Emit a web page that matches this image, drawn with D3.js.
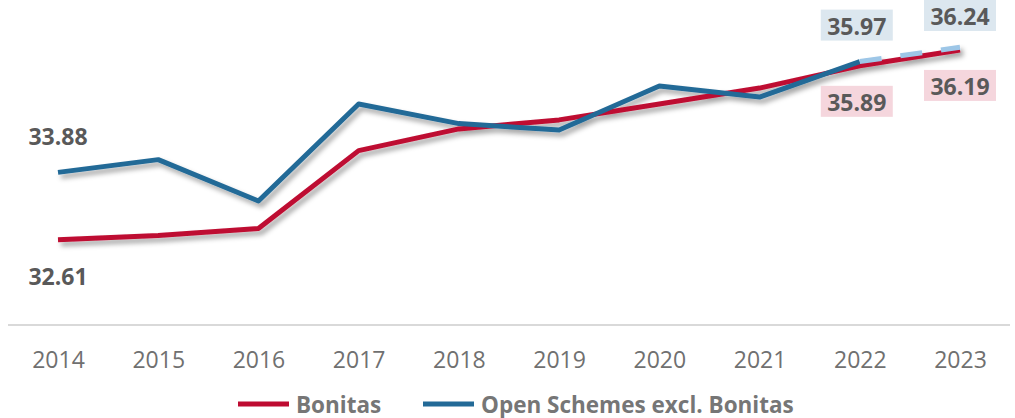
<!DOCTYPE html>
<html>
<head>
<meta charset="utf-8">
<script src="https://cdn.jsdelivr.net/npm/d3@7"></script>
<style>
  html, body { margin: 0; padding: 0; background: #ffffff; }
  svg { display: block; font-family: "Open Sans", "Lato", sans-serif; }
</style>
</head>
<body>
<svg id="chart" width="1015" height="418"></svg>
<script>
// ---- data ----
const years = ["2014", "2015", "2016", "2017", "2018", "2019", "2020", "2021", "2022", "2023"];
const bonitas = [32.61, 32.69, 32.82, 34.29, 34.70, 34.87, 35.17, 35.47, 35.89, 36.19];
const openSchemes = [33.88, 34.12, 33.34, 35.17, 34.80, 34.68, 35.51, 35.30, 35.97, 36.24];
const seriesNames = ["Bonitas", "Open Schemes excl. Bonitas"];
const labelledYears = ["2014", "2022", "2023"];
const boxedYears = ["2022", "2023"];
const projectedFrom = "2022";

// ---- layout ----
const svg = d3.select("#chart");
const x = d3.scalePoint().domain(years).range([58, 960]);
const y = d3.scaleLinear().domain([31, 37]).range([325, 7]);

const colors = { red: "#BE0B31", blue: "#236A97", lightBlue: "#9DC6E7",
                 label: "#595959", axis: "#707070", legend: "#767676" };

const defs = svg.append("defs");
const f = defs.append("filter").attr("id", "shadow")
  .attr("x", "-5%").attr("y", "-20%").attr("width", "110%").attr("height", "150%");
f.append("feDropShadow").attr("dx", 3).attr("dy", 4).attr("stdDeviation", 2.5)
  .attr("flood-color", "#000").attr("flood-opacity", 0.35);

// baseline axis
svg.append("line").attr("x1", 8).attr("x2", 1010)
  .attr("y1", y(31)).attr("y2", y(31))
  .attr("stroke", "#d9d9d9").attr("stroke-width", 2);

// x axis tick labels
const xAxis = d3.axisBottom(x).tickSize(0).tickPadding(0);
const gx = svg.append("g").attr("transform", `translate(0,${y(31) + 27})`).call(xAxis);
gx.select(".domain").remove();
gx.selectAll("text").attr("fill", colors.axis).attr("font-size", 23)
  .attr("font-family", "'Open Sans', sans-serif");

const line = d3.line().x(d => x(d.year)).y(d => y(d.value));
const bonData = years.map((yr, i) => ({ year: yr, value: bonitas[i] }));
const openData = years.map((yr, i) => ({ year: yr, value: openSchemes[i] }));
const splitIdx = years.indexOf(projectedFrom);

const lines = svg.append("g").attr("filter", "url(#shadow)");
lines.append("path").datum(bonData).attr("d", line)
  .attr("fill", "none").attr("stroke", colors.red).attr("stroke-width", 5)
  .attr("stroke-linejoin", "round");
lines.append("path").datum(openData.slice(0, splitIdx + 1)).attr("d", line)
  .attr("fill", "none").attr("stroke", colors.blue).attr("stroke-width", 5)
  .attr("stroke-linejoin", "round");
lines.append("path").datum(openData.slice(splitIdx)).attr("d", line)
  .attr("fill", "none").attr("stroke", colors.lightBlue).attr("stroke-width", 5)
  .attr("stroke-dasharray", "22,19");

// data labels
function addLabels(data, dy, boxColor) {
  const g = svg.append("g");
  data.filter(d => labelledYears.includes(d.year)).forEach(d => {
    const cx = x(d.year) - (d.year === "2022" ? 3 : 0);
    const cy = Math.max(y(d.value) + dy, 16);
    if (boxedYears.includes(d.year)) {
      g.append("rect").attr("x", cx - 36).attr("y", cy - 16).attr("width", 72).attr("height", 31)
        .attr("fill", boxColor);
    }
    g.append("text").attr("x", cx).attr("y", cy).attr("text-anchor", "middle")
      .attr("dominant-baseline", "central")
      .attr("font-size", 23).attr("font-weight", "bold").attr("fill", colors.label)
      .text(d.value.toFixed(2));
  });
}
addLabels(openData, -36, "#DCE7EF");
addLabels(bonData, 36, "#F5D6DD");

// legend
const legend = svg.append("g");
const items = [
  { name: seriesNames[0], color: colors.red, x0: 238 },
  { name: seriesNames[1], color: colors.blue, x0: 423 }
];
items.forEach(it => {
  legend.append("line").attr("x1", it.x0).attr("x2", it.x0 + 51)
    .attr("y1", 404).attr("y2", 404).attr("stroke", it.color).attr("stroke-width", 5);
  legend.append("text").attr("x", it.x0 + 58).attr("y", 404)
    .attr("dominant-baseline", "central")
    .attr("font-size", 22.5).attr("font-weight", "bold").attr("fill", colors.legend)
    .text(it.name);
});
</script>
</body>
</html>
